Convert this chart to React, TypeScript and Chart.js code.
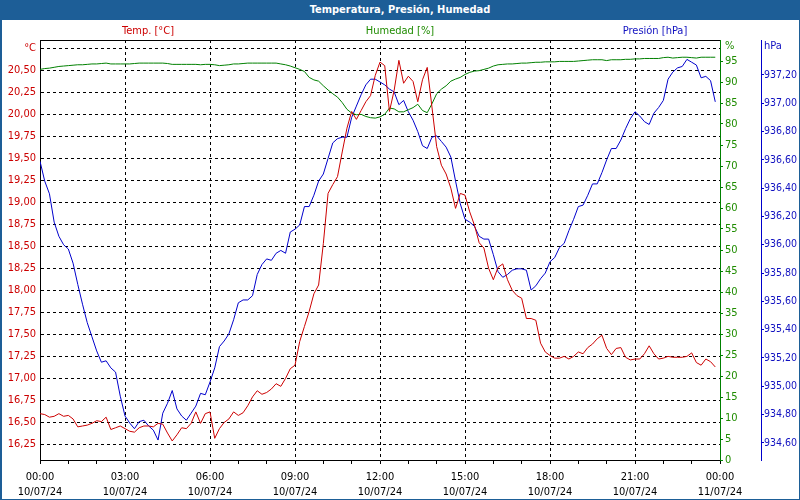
import React, { useEffect, useRef } from 'react';
import { Chart, registerables } from 'chart.js';

Chart.register(...registerables);

const TITLE = 'Temperatura, Presión, Humedad';
const SERIES_TITLES = ['Temp. [°C]', 'Humedad [%]', 'Presión [hPa]'];
const SAMPLE_MINUTES = 10;

const temperature = [
  16.60, 16.59, 16.56, 16.57, 16.60, 16.57, 16.58, 16.54, 16.45, 16.46, 16.47, 16.49,
  16.52, 16.51, 16.56, 16.42, 16.44, 16.46, 16.43, 16.40, 16.39, 16.44, 16.46, 16.46,
  16.45, 16.49, 16.48, 16.38, 16.29, 16.36, 16.44, 16.43, 16.49, 16.62, 16.49, 16.60,
  16.62, 16.32, 16.43, 16.50, 16.54, 16.62, 16.58, 16.61, 16.69, 16.79, 16.86, 16.82,
  16.84, 16.88, 16.94, 16.91, 17.00, 17.11, 17.15, 17.42, 17.59, 17.76, 17.96, 18.06,
  18.53, 19.10, 19.20, 19.29, 19.57, 19.84, 20.03, 19.94, 20.04, 20.14, 20.21, 20.44,
  20.59, 20.55, 20.03, 20.27, 20.61, 20.35, 20.43, 20.37, 20.14, 20.39, 20.53, 20.08,
  19.63, 19.42, 19.32, 19.16, 18.93, 19.10, 19.08, 18.89, 18.74, 18.54, 18.48, 18.25,
  18.12, 18.26, 18.30, 18.12, 18.00, 17.94, 17.91, 17.68, 17.68, 17.66, 17.40, 17.30,
  17.26, 17.23, 17.23, 17.25, 17.22, 17.25, 17.30, 17.28, 17.35, 17.39, 17.45, 17.49,
  17.34, 17.27, 17.34, 17.35, 17.24, 17.21, 17.22, 17.22, 17.28, 17.37, 17.28, 17.22,
  17.23, 17.25, 17.24, 17.24, 17.24, 17.25, 17.29, 17.18, 17.15, 17.22, 17.19, 17.13,
];

const pressure = [
  936.59, 936.45, 936.36, 936.16, 936.06, 936.00, 935.97, 935.87, 935.72, 935.58, 935.45, 935.35,
  935.25, 935.17, 935.18, 935.13, 935.10, 934.93, 934.79, 934.74, 934.70, 934.75, 934.76, 934.72,
  934.69, 934.62, 934.81, 934.88, 934.97, 934.84, 934.79, 934.76, 934.81, 934.86, 934.95, 934.94,
  935.03, 935.13, 935.28, 935.32, 935.37, 935.47, 935.59, 935.61, 935.61, 935.64, 935.79, 935.86,
  935.90, 935.89, 935.94, 935.96, 935.94, 936.09, 936.11, 936.14, 936.27, 936.27, 936.35, 936.45,
  936.50, 936.61, 936.72, 936.75, 936.76, 936.76, 936.90, 936.98, 937.06, 937.13, 937.17, 937.17,
  937.15, 937.13, 937.10, 937.08, 936.99, 937.02, 936.94, 936.88, 936.80, 936.70, 936.68, 936.76,
  936.77, 936.73, 936.69, 936.62, 936.45, 936.29, 936.18, 936.16, 936.13, 936.06, 936.04, 936.04,
  935.93, 935.81, 935.77, 935.79, 935.82, 935.83, 935.83, 935.82, 935.68, 935.71, 935.76, 935.80,
  935.88, 935.91, 935.98, 936.01, 936.10, 936.18, 936.27, 936.28, 936.35, 936.43, 936.43, 936.51,
  936.60, 936.68, 936.68, 936.74, 936.82, 936.89, 936.94, 936.91, 936.87, 936.85, 936.93, 936.97,
  937.02, 937.17, 937.22, 937.25, 937.26, 937.31, 937.29, 937.27, 937.18, 937.19, 937.16, 937.01,
];

const humidity = [
  93.0, 93.2, 93.3, 93.5, 93.7, 93.8, 93.9, 94.0, 94.1, 94.1, 94.2, 94.3,
  94.3, 94.4, 94.5, 94.3, 94.3, 94.3, 94.3, 94.3, 94.4, 94.5, 94.5, 94.5,
  94.5, 94.5, 94.5, 94.4, 94.2, 94.2, 94.2, 94.2, 94.2, 94.2, 94.1, 94.2,
  94.2, 94.1, 93.9, 94.0, 94.1, 94.3, 94.3, 94.4, 94.5, 94.5, 94.5, 94.5,
  94.5, 94.5, 94.5, 94.3, 94.1, 93.8, 93.4, 93.0, 92.5, 91.1, 90.5, 90.2,
  89.1, 88.1, 87.2, 86.4, 85.1, 83.5, 82.6, 82.2, 82.3, 81.8, 81.5, 81.4,
  81.7, 82.3, 83.8, 83.6, 82.9, 82.9, 83.4, 83.9, 84.7, 83.2, 82.7, 84.8,
  87.2, 88.3, 89.1, 90.2, 90.7, 91.1, 91.8, 92.3, 92.6, 92.7, 93.0, 93.3,
  93.8, 94.1, 94.2, 94.3, 94.3, 94.4, 94.5, 94.5, 94.6, 94.7, 94.7, 94.8,
  94.8, 94.8, 94.9, 94.9, 94.9, 94.9, 95.0, 95.1, 95.2, 95.3, 95.3, 95.3,
  95.1, 95.3, 95.3, 95.3, 95.4, 95.4, 95.5, 95.5, 95.6, 95.6, 95.6, 95.6,
  95.8, 95.9, 95.7, 95.8, 95.9, 95.9, 95.8, 95.7, 95.9, 95.9, 95.9, 95.9,
];

const hourTicks = [0, 60, 120, 180, 240, 300, 360, 420, 480, 540, 600, 660, 720,
  780, 840, 900, 960, 1020, 1080, 1140, 1200, 1260, 1320, 1380, 1440];
const majorTimes = [0, 180, 360, 540, 720, 900, 1080, 1260, 1440];
const timeLabels = ['00:00', '03:00', '06:00', '09:00', '12:00', '15:00', '18:00', '21:00', '00:00'];
const dateLabels = ['10/07/24', '10/07/24', '10/07/24', '10/07/24', '10/07/24', '10/07/24', '10/07/24', '10/07/24', '11/07/24'];

const tempTicks = [16.25, 16.5, 16.75, 17, 17.25, 17.5, 17.75, 18, 18.25, 18.5, 18.75,
  19, 19.25, 19.5, 19.75, 20, 20.25, 20.5, 20.75];
const humTicks = [0, 5, 10, 15, 20, 25, 30, 35, 40, 45, 50, 55, 60, 65, 70, 75, 80, 85, 90, 95];
const presTicks = [934.6, 934.8, 935.0, 935.2, 935.4, 935.6, 935.8, 936.0, 936.2, 936.4,
  936.6, 936.8, 937.0, 937.2];

const RED = '#cc0000';
const GREEN = '#008000';
const GREEN_TXT = '#1f8c00';
const BLUE = '#0000cc';
const BLUE_TXT = '#1010c0';
const FRAME = '#1d5e97';
const FONT = "'DejaVu Sans Condensed', 'Liberation Sans', Arial, sans-serif";

const comma = (v: number) => v.toFixed(2).replace('.', ',');

const decor = {
  id: 'decor',
  afterDraw(chart: any) {
    const { ctx, chartArea } = chart;
    ctx.save();
    ctx.strokeStyle = '#000';
    ctx.lineWidth = 1;
    ctx.beginPath();
    ctx.moveTo(chartArea.left, chartArea.top + 0.5);
    ctx.lineTo(chartArea.right, chartArea.top + 0.5);
    ctx.stroke();
    ctx.font = `11px ${FONT}`;
    ctx.textBaseline = 'middle';
    ctx.textAlign = 'center';
    const colors = [RED, GREEN_TXT, BLUE_TXT];
    const centers = [148, 400, 655];
    SERIES_TITLES.forEach((t, i) => {
      ctx.fillStyle = colors[i];
      ctx.fillText(t, centers[i], 31);
    });
    ctx.textAlign = 'left';
    ctx.fillStyle = GREEN_TXT;
    ctx.fillText('%', chartArea.right + 5, chartArea.top + 6);
    ctx.fillStyle = BLUE_TXT;
    ctx.fillText('hPa', chartArea.right + 44, chartArea.top + 6);
    ctx.restore();
  },
};

export default function App() {
  const ref = useRef<HTMLCanvasElement>(null);

  useEffect(() => {
    if (!ref.current) return;
    const toPoints = (arr: number[]) => arr.map((v, i) => ({ x: i * SAMPLE_MINUTES, y: v }));
    const font = { family: FONT, size: 11 };
    const chart = new Chart(ref.current, {
      type: 'line',
      data: {
        datasets: [
          { label: SERIES_TITLES[0], data: toPoints(temperature), yAxisID: 'yT', borderColor: RED, borderWidth: 1, pointRadius: 0, tension: 0 },
          { label: SERIES_TITLES[1], data: toPoints(humidity), yAxisID: 'yH', borderColor: GREEN, borderWidth: 1, pointRadius: 0, tension: 0 },
          { label: SERIES_TITLES[2], data: toPoints(pressure), yAxisID: 'yP', borderColor: BLUE, borderWidth: 1, pointRadius: 0, tension: 0 },
        ],
      },
      options: {
        responsive: false,
        animation: false,
        devicePixelRatio: 1,
        layout: { padding: { top: 40, left: 0, right: 0, bottom: 0 } },
        plugins: { legend: { display: false }, tooltip: { enabled: false }, title: { display: false } },
        scales: {
          x: {
            type: 'linear',
            position: 'bottom',
            min: 0,
            max: 1440,
            afterBuildTicks: (s: any) => { s.ticks = hourTicks.map((v) => ({ value: v })); },
            afterFit: (s: any) => { s.height = 40; },
            ticks: {
              autoSkip: false,
              maxRotation: 0,
              color: '#000',
              padding: 6,
              font: { ...font, lineHeight: 1.36 },
              callback: (v: any) => {
                const i = majorTimes.indexOf(Number(v));
                return i >= 0 ? [timeLabels[i], dateLabels[i]] : '';
              },
            },
            grid: {
              color: (c: any) => {
                const v = c.tick ? c.tick.value : -1;
                return v % 180 === 0 && v > 0 && v < 1440 ? '#000' : 'rgba(0,0,0,0)';
              },
              tickColor: '#000',
              tickLength: 4,
              drawTicks: true,
            },
            border: { color: '#000', width: 1, dash: [3, 3] },
          },
          yT: {
            type: 'linear',
            position: 'left',
            min: 16.074,
            max: 20.841,
            afterBuildTicks: (s: any) => { s.ticks = tempTicks.map((v) => ({ value: v })); },
            afterFit: (s: any) => { s.width = 40; },
            ticks: {
              color: RED,
              padding: 4,
              font,
              callback: (v: any) => (Number(v) === 20.75 ? '°C' : comma(Number(v))),
            },
            grid: { color: '#000', drawTicks: false },
            border: { color: '#000', width: 1, dash: [3, 3] },
          },
          yH: {
            type: 'linear',
            position: 'right',
            min: 0,
            max: 100,
            afterBuildTicks: (s: any) => { s.ticks = humTicks.map((v) => ({ value: v })); },
            afterFit: (s: any) => { s.width = 41; },
            ticks: { color: GREEN_TXT, padding: 2, font, callback: (v: any) => String(v) },
            grid: { drawOnChartArea: false, drawTicks: true, tickLength: 3, tickColor: GREEN },
            border: { color: GREEN, width: 1 },
          },
          yP: {
            type: 'linear',
            position: 'right',
            min: 934.479,
            max: 937.447,
            afterBuildTicks: (s: any) => { s.ticks = presTicks.map((v) => ({ value: v })); },
            afterFit: (s: any) => { s.width = 39; },
            ticks: { color: BLUE_TXT, padding: 0, font: { family: FONT, size: 10.5 }, callback: (v: any) => comma(Number(v)) },
            grid: { drawOnChartArea: false, drawTicks: true, tickLength: 3, tickColor: BLUE },
            border: { color: BLUE, width: 1 },
          },
        },
      } as any,
      plugins: [decor],
    });
    return () => chart.destroy();
  }, []);

  return (
    <div style={{ position: 'absolute', left: 0, top: 0, width: 800, height: 500, background: '#fff', overflow: 'hidden' }}>
      <canvas ref={ref} width={800} height={500} style={{ position: 'absolute', left: 0, top: 0, width: 800, height: 500 }} />
      <div style={{ position: 'absolute', left: 0, top: 0, width: 800, height: 20, background: FRAME, color: '#fff', fontFamily: FONT, fontWeight: 'bold', fontSize: 11, lineHeight: '20px', textAlign: 'center' }}>
        {TITLE}
      </div>
      <div style={{ position: 'absolute', left: 0, top: 20, width: 2, height: 480, background: FRAME }} />
      <div style={{ position: 'absolute', right: 0, top: 20, width: 1, height: 480, background: FRAME }} />
      <div style={{ position: 'absolute', left: 0, bottom: 0, width: 800, height: 1, background: FRAME }} />
    </div>
  );
}
